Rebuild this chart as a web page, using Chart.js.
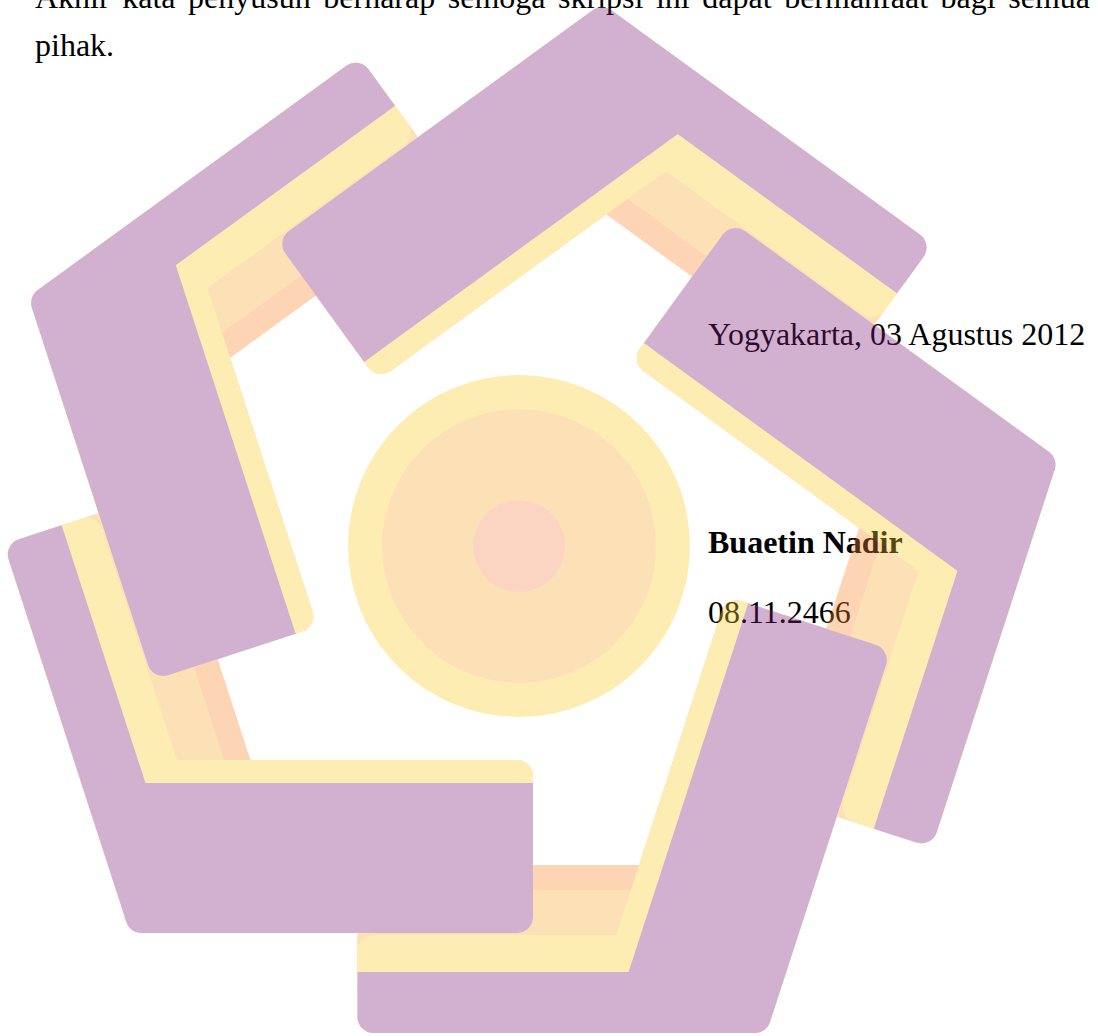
<!DOCTYPE html>
<html>
<head>
<meta charset="utf-8">
<script src="https://cdn.jsdelivr.net/npm/chart.js@4.4.0/dist/chart.umd.min.js"></script>
<style>
html,body{margin:0;padding:0;background:#ffffff;width:1098px;height:1036px;overflow:hidden;}
#wrap{position:relative;width:1098px;height:1036px;}
.t{position:absolute;font-family:"Liberation Serif","Times New Roman",serif;font-size:32px;line-height:32px;color:#000;}
#l1{left:35px;top:-19px;width:1055px;text-align:justify;text-align-last:justify;}
#l2{left:35px;top:29px;white-space:nowrap;}
#s1{left:708px;top:318px;white-space:nowrap;}
#s2{left:708px;top:526px;white-space:nowrap;font-weight:bold;}
#s3{left:708px;top:596px;white-space:nowrap;}
#c{position:absolute;left:0;top:0;opacity:0.35;pointer-events:none;}
</style>
</head>
<body>
<div id="wrap">
  <div class="t" id="l1">Akhir kata penyusun berharap semoga skripsi ini dapat bermanfaat bagi semua</div>
  <div class="t" id="l2">pihak.</div>
  <div class="t" id="s1">Yogyakarta, 03 Agustus 2012</div>
  <div class="t" id="s2">Buaetin Nadir</div>
  <div class="t" id="s3">08.11.2466</div>
  <canvas id="c" width="1098" height="1036"></canvas>
</div>
<script>
// ---- logo shapes: outline vertices (page pixels),
//      set in by the corner radius; the rounded stroke brings them back out ----
// Arm A (bottom-left)
const armA_orange = [[141.6,917],[517,917],[517,776],[238.8,776],[153.2,512.3],[23.8,554.4]];
const armA_peach  = [[141.6,917],[517,917],[517,776],[212.5,776],[129.4,520.1],[23.8,554.4]];
const armA_yellow = [[141.6,917],[517,917],[517,776],[165.2,776],[86.6,534.0],[23.8,554.4]];
const armA_purple = [[141.6,917],[517,917],[517,799],[133.8,799],[51.4,545.4],[23.8,554.4]];
const armA_sharp1 = [[533,783],[517,783],[533,799]];
const armA_sharp2 = [[61.6,525.2],[46.4,530.2],[66.6,540.4]];
// Arm B (bottom-right)
const armB_orange = [[754.8,1017.0],[870.8,660.0],[736.7,616.4],[650.7,881.0],[373.5,880.9],[373.5,1017.0]];
const armB_peach  = [[754.8,1017.0],[870.8,660.0],[736.7,616.4],[642.6,906.0],[373.5,905.9],[373.5,1017.0]];
const armB_yellow = [[754.8,1017.0],[870.8,660.0],[736.7,616.4],[628.0,951.0],[373.5,950.9],[373.5,1017.0]];
const armB_purple = [[754.8,1017.0],[870.8,660.0],[758.6,623.5],[640.2,987.9],[373.5,987.9],[373.5,1017.0]];
const armB_sharp1 = [[748.2,603.3],[743.3,618.6],[763.5,608.2]];
const armB_sharp2 = [[357.5,972.0],[357.5,988.0],[373.5,972.0]];
// Arm C (right)
const armC_orange = [[1039.4,464.7],[735.7,244.0],[652.8,358.1],[877.9,521.6],[792.1,785.3],[921.5,827.3]];
const armC_peach  = [[1039.4,464.7],[735.7,244.0],[652.8,358.1],[899.1,537.1],[816.0,792.9],[921.5,827.3]];
const armC_yellow = [[1039.4,464.7],[735.7,244.0],[652.8,358.1],[937.4,564.9],[858.7,806.9],[921.5,827.3]];
const armC_purple = [[1039.4,464.7],[735.7,244.0],[666.3,339.5],[976.3,564.7],[893.9,818.4],[921.5,827.3]];
const armC_sharp1 = [[644.0,343.1],[657.0,352.5],[653.4,330.2]];
const armC_sharp2 = [[873.8,828.8],[889.1,833.7],[878.7,813.6]];
// Arm D (top)
const armD_orange = [[602.0,23.3],[298.3,244.0],[381.2,358.1],[606.3,194.6],[830.5,357.7],[910.5,247.5]];
const armD_peach  = [[602.0,23.3],[298.3,244.0],[381.2,358.1],[627.5,179.1],[845.2,337.3],[910.5,247.5]];
const armD_yellow = [[602.0,23.3],[298.3,244.0],[381.2,358.1],[665.8,151.3],[871.7,300.9],[910.5,247.5]];
const armD_purple = [[602.0,23.3],[298.3,244.0],[367.7,339.5],[677.7,114.3],[893.5,271.0],[910.5,247.5]];
const armD_sharp1 = [[364.2,361.9],[377.2,352.5],[354.8,349.0]];
const armD_sharp2 = [[897.0,293.2],[906.4,280.4],[884.2,283.9]];
// Arm E (left)
const armE_orange = [[47.2,303.0],[163.2,660.0],[297.3,616.4],[211.3,351.8],[435.7,188.9],[355.7,78.8]];
const armE_peach  = [[47.2,303.0],[163.2,660.0],[297.3,616.4],[203.2,326.8],[420.9,168.7],[355.7,78.8]];
const armE_yellow = [[47.2,303.0],[163.2,660.0],[297.3,616.4],[188.6,281.8],[394.5,132.3],[355.7,78.8]];
const armE_purple = [[47.2,303.0],[163.2,660.0],[275.4,623.5],[157.0,259.1],[372.7,102.3],[355.7,78.8]];
const armE_sharp1 = [[295.6,633.7],[290.6,618.5],[280.4,638.7]];
const armE_sharp2 = [[395.1,105.8],[385.7,92.9],[382.2,115.3]];
// Central disc
const discCenter = [519,546];

// ---- styles ----
const COL = {
  orange: 'rgb(252,135,44)',
  peach:  'rgb(249,172,52)',
  yellow: 'rgb(252,204,41)',
  purple: 'rgb(129,32,124)',
  pink:   'rgb(249,138,84)'
};
const DISC_RADII = [171, 137, 46];
const CORNER = 32; // stroke width = 2 x corner radius

function poly(pts, color, rounded){
  const closed = pts.concat([pts[0]]);
  return {
    data: closed.map(p => ({x:p[0], y:p[1]})),
    fill: 'shape', showLine: true,
    backgroundColor: color,
    borderColor: rounded ? color : 'rgba(0,0,0,0)',
    borderWidth: rounded ? CORNER : 1,
    borderJoinStyle: 'round', borderCapStyle: 'round',
    pointRadius: 0, pointHoverRadius: 0, tension: 0
  };
}
function disc(center, r, color){
  return {
    data: [{x:center[0], y:center[1]}],
    showLine: false, fill: false,
    pointRadius: r, pointHoverRadius: r, pointBorderWidth: 0,
    pointBackgroundColor: color, pointBorderColor: color,
    backgroundColor: color, borderColor: color
  };
}

const drawSeq = [
  poly(armA_orange, COL.orange, true), poly(armB_orange, COL.orange, true), poly(armC_orange, COL.orange, true), poly(armD_orange, COL.orange, true), poly(armE_orange, COL.orange, true),
  poly(armA_peach, COL.peach, true), poly(armB_peach, COL.peach, true), poly(armC_peach, COL.peach, true), poly(armD_peach, COL.peach, true), poly(armE_peach, COL.peach, true),
  poly(armA_yellow, COL.yellow, true), poly(armB_yellow, COL.yellow, true), poly(armC_yellow, COL.yellow, true), poly(armD_yellow, COL.yellow, true), poly(armE_yellow, COL.yellow, true),
  poly(armA_purple, COL.purple, true), poly(armB_purple, COL.purple, true), poly(armC_purple, COL.purple, true), poly(armD_purple, COL.purple, true), poly(armE_purple, COL.purple, true),
  poly(armA_sharp1, COL.purple, false), poly(armA_sharp2, COL.purple, false),
  poly(armB_sharp1, COL.purple, false), poly(armB_sharp2, COL.purple, false),
  poly(armC_sharp1, COL.purple, false), poly(armC_sharp2, COL.purple, false),
  poly(armD_sharp1, COL.purple, false), poly(armD_sharp2, COL.purple, false),
  poly(armE_sharp1, COL.purple, false), poly(armE_sharp2, COL.purple, false),
  disc(discCenter, DISC_RADII[0], COL.yellow),
  disc(discCenter, DISC_RADII[1], COL.peach),
  disc(discCenter, DISC_RADII[2], COL.pink)
];
const N = drawSeq.length;
drawSeq.forEach((d, i) => { d.order = N - i; d.clip = false; });

new Chart(document.getElementById('c'), {
  type: 'line',
  data: { datasets: drawSeq },
  options: {
    responsive: false,
    animation: false,
    events: [],
    layout: { padding: 0, autoPadding: false },
    plugins: { legend: { display: false }, tooltip: { enabled: false }, title: { display: false } },
    scales: {
      x: { type: 'linear', min: 0, max: 1098, display: false },
      y: { type: 'linear', min: 0, max: 1036, reverse: true, display: false }
    }
  }
});
</script>
</body>
</html>
